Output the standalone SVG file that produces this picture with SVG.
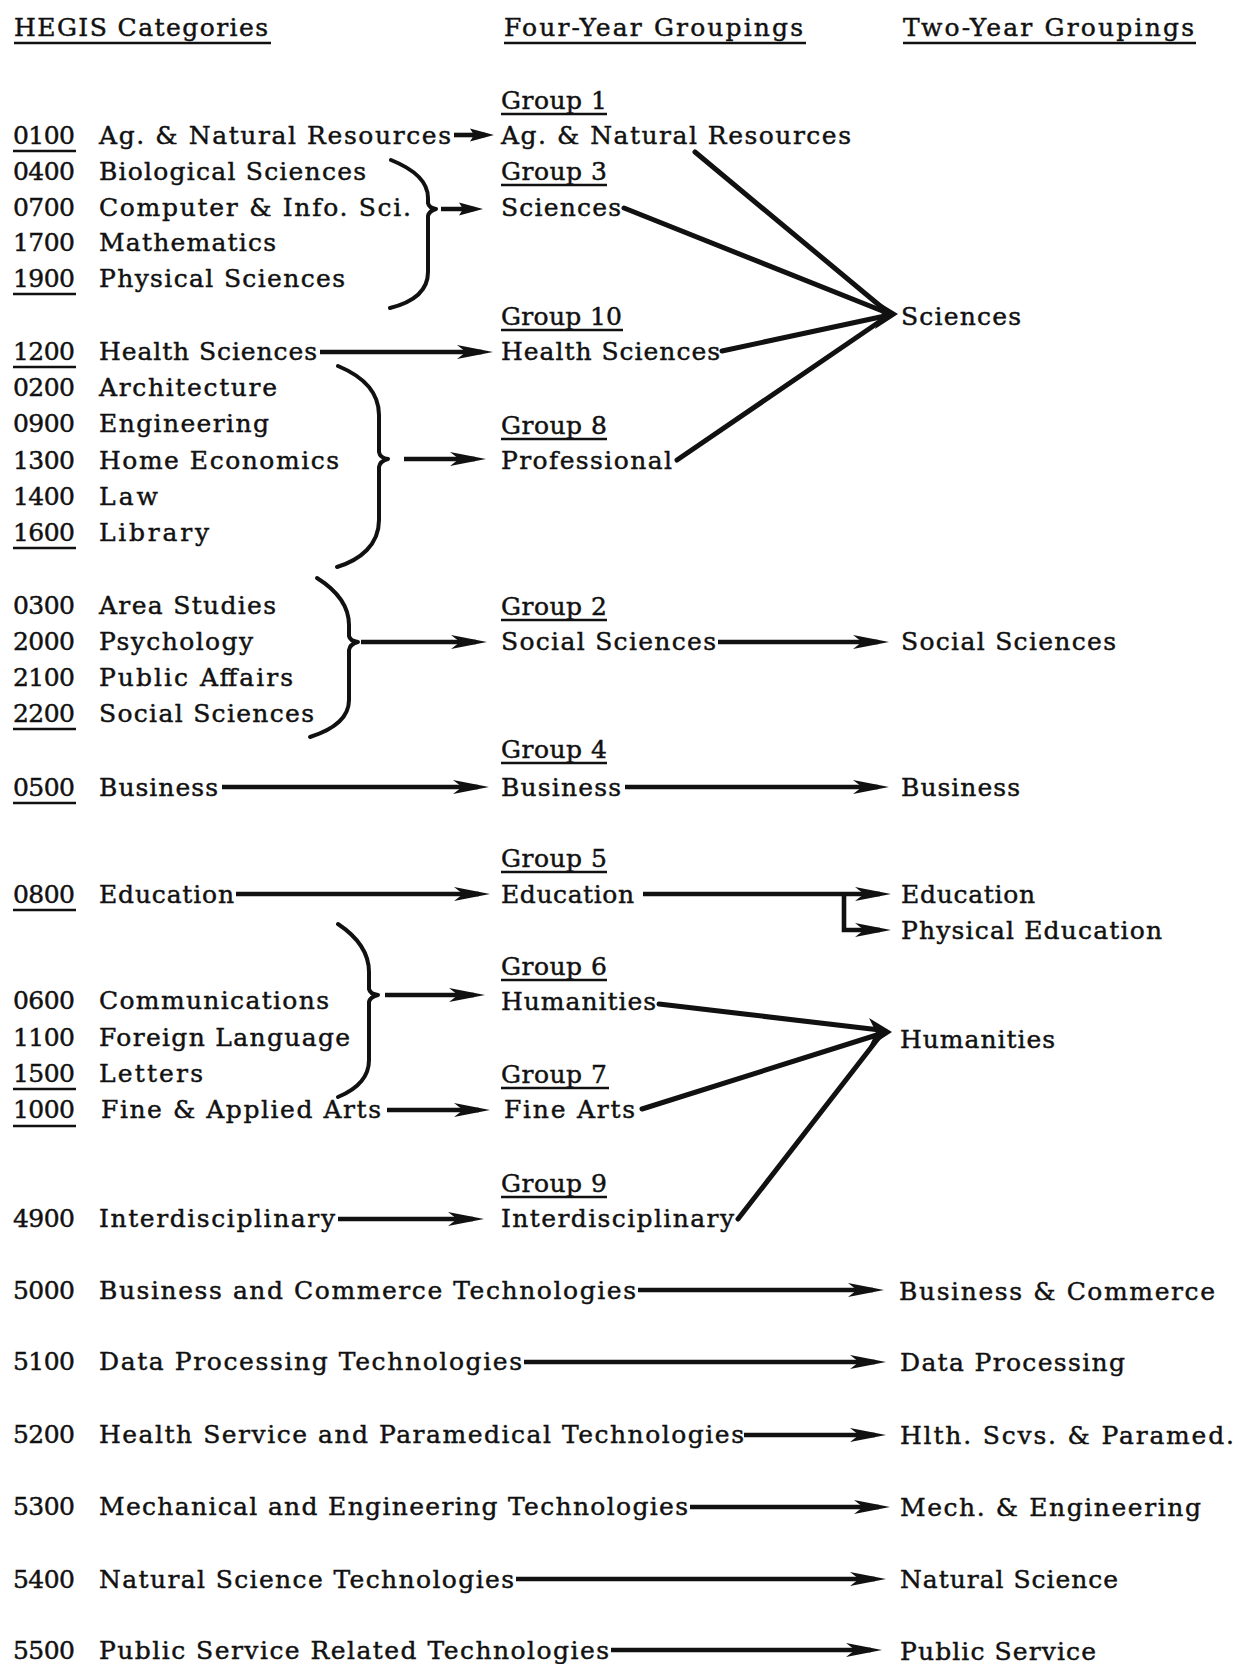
<svg xmlns="http://www.w3.org/2000/svg" width="1241" height="1664" viewBox="0 0 1241 1664">
<style>
text{font-family:"DejaVu Serif","Liberation Serif",serif;font-size:25px;fill:#111;stroke:#111;stroke-width:0.45}
.ul{stroke:#111;stroke-width:2.6}
.ar{stroke:#111;stroke-width:4.6;fill:none}
.cv{stroke:#111;stroke-width:5;fill:none;stroke-linecap:round}
.br{stroke:#111;stroke-width:4;fill:none;stroke-linecap:round;stroke-linejoin:round}
.hd{fill:#111}
</style>
<defs>
<marker id="ah" markerUnits="userSpaceOnUse" markerWidth="38" markerHeight="18" refX="25" refY="8" orient="auto" viewBox="0 0 38 18"><path d="M0,1 L36,8 L0,15 L9,8 Z" fill="#111"/></marker>
<marker id="ahs" markerUnits="userSpaceOnUse" markerWidth="26" markerHeight="16" refX="15" refY="7" orient="auto" viewBox="0 0 26 16"><path d="M0,0.5 L24,7 L0,13.5 L4,7 Z" fill="#111"/></marker>
</defs>
<rect width="1241" height="1664" fill="#fff"/>

<g id="headers">
<text x="14" y="36" textLength="254" lengthAdjust="spacing">HEGIS Categories</text>
<line class="ul" x1="14" y1="43" x2="271" y2="43"/>
<text x="504" y="36" textLength="299" lengthAdjust="spacing">Four-Year Groupings</text>
<line class="ul" x1="504" y1="43" x2="806" y2="43"/>
<text x="903" y="36" textLength="291" lengthAdjust="spacing">Two-Year Groupings</text>
<line class="ul" x1="903" y1="43" x2="1196" y2="43"/>
</g>

<g id="hegis">
<g id="h0100"><text x="13" y="144" textLength="62">0100</text><line class="ul" x1="13" y1="151" x2="76" y2="151"/><text x="99" y="144" textLength="352">Ag. &amp; Natural Resources</text></g>
<g id="h0400"><text x="13" y="180" textLength="62">0400</text><text x="99" y="180" textLength="267">Biological Sciences</text></g>
<g id="h0700"><text x="13" y="216" textLength="62">0700</text><text x="99" y="216" textLength="312">Computer &amp; Info. Sci.</text></g>
<g id="h1700"><text x="13" y="251" textLength="62">1700</text><text x="99" y="251" textLength="177">Mathematics</text></g>
<g id="h1900"><text x="13" y="287" textLength="62">1900</text><line class="ul" x1="13" y1="294" x2="76" y2="294"/><text x="99" y="287" textLength="246">Physical Sciences</text></g>
<g id="h1200"><text x="13" y="360" textLength="62">1200</text><line class="ul" x1="13" y1="367" x2="76" y2="367"/><text x="99" y="360" textLength="218">Health Sciences</text></g>
<g id="h0200"><text x="13" y="396" textLength="62">0200</text><text x="99" y="396" textLength="178">Architecture</text></g>
<g id="h0900"><text x="13" y="432" textLength="62">0900</text><text x="99" y="432" textLength="170">Engineering</text></g>
<g id="h1300"><text x="13" y="469" textLength="62">1300</text><text x="99" y="469" textLength="240">Home Economics</text></g>
<g id="h1400"><text x="13" y="505" textLength="62">1400</text><text x="99" y="505" textLength="59">Law</text></g>
<g id="h1600"><text x="13" y="541" textLength="62">1600</text><line class="ul" x1="13" y1="548" x2="76" y2="548"/><text x="99" y="541" textLength="110">Library</text></g>
<g id="h0300"><text x="13" y="614" textLength="62">0300</text><text x="99" y="614" textLength="177">Area Studies</text></g>
<g id="h2000"><text x="13" y="650" textLength="62">2000</text><text x="99" y="650" textLength="154">Psychology</text></g>
<g id="h2100"><text x="13" y="686" textLength="62">2100</text><text x="99" y="686" textLength="194">Public Affairs</text></g>
<g id="h2200"><text x="13" y="722" textLength="62">2200</text><line class="ul" x1="13" y1="729" x2="76" y2="729"/><text x="99" y="722" textLength="215">Social Sciences</text></g>
<g id="h0500"><text x="13" y="796" textLength="62">0500</text><line class="ul" x1="13" y1="803" x2="76" y2="803"/><text x="99" y="796" textLength="119">Business</text></g>
<g id="h0800"><text x="13" y="903" textLength="62">0800</text><line class="ul" x1="13" y1="910" x2="76" y2="910"/><text x="99" y="903" textLength="135">Education</text></g>
<g id="h0600"><text x="13" y="1009" textLength="62">0600</text><text x="99" y="1009" textLength="230">Communications</text></g>
<g id="h1100"><text x="13" y="1046" textLength="62">1100</text><text x="99" y="1046" textLength="251">Foreign Language</text></g>
<g id="h1500"><text x="13" y="1082" textLength="62">1500</text><line class="ul" x1="13" y1="1089" x2="76" y2="1089"/><text x="99" y="1082" textLength="104">Letters</text></g>
<g id="h1000"><text x="13" y="1118" textLength="62">1000</text><line class="ul" x1="13" y1="1126" x2="76" y2="1126"/><text x="101" y="1118" textLength="280">Fine &amp; Applied Arts</text></g>
<g id="h4900"><text x="13" y="1227" textLength="62">4900</text><text x="99" y="1227" textLength="236">Interdisciplinary</text></g>
<g id="h5000"><text x="13" y="1299" textLength="62">5000</text><text x="99" y="1299" textLength="537">Business and Commerce Technologies</text></g>
<g id="h5100"><text x="13" y="1370" textLength="62">5100</text><text x="99" y="1370" textLength="423">Data Processing Technologies</text></g>
<g id="h5200"><text x="13" y="1443" textLength="62">5200</text><text x="99" y="1443" textLength="645">Health Service and Paramedical Technologies</text></g>
<g id="h5300"><text x="13" y="1515" textLength="62">5300</text><text x="99" y="1515" textLength="589">Mechanical and Engineering Technologies</text></g>
<g id="h5400"><text x="13" y="1588" textLength="62">5400</text><text x="99" y="1588" textLength="415">Natural Science Technologies</text></g>
<g id="h5500"><text x="13" y="1659" textLength="62">5500</text><text x="99" y="1659" textLength="510">Public Service Related Technologies</text></g>
</g>

<g id="fouryear">
<g id="g1"><text x="501" y="109" textLength="106">Group 1</text><line class="ul" x1="501" y1="114" x2="607" y2="114"/><text x="501" y="144" textLength="350">Ag. &amp; Natural Resources</text></g>
<g id="g3"><text x="501" y="180" textLength="106">Group 3</text><line class="ul" x1="501" y1="185" x2="607" y2="185"/><text x="501" y="216" textLength="120">Sciences</text></g>
<g id="g10"><text x="501" y="325" textLength="121">Group 10</text><line class="ul" x1="501" y1="330" x2="623" y2="330"/><text x="501" y="360" textLength="219">Health Sciences</text></g>
<g id="g8"><text x="501" y="434" textLength="106">Group 8</text><line class="ul" x1="501" y1="439" x2="607" y2="439"/><text x="501" y="469" textLength="171">Professional</text></g>
<g id="g2"><text x="501" y="615" textLength="106">Group 2</text><line class="ul" x1="501" y1="620" x2="607" y2="620"/><text x="501" y="650" textLength="215">Social Sciences</text></g>
<g id="g4"><text x="501" y="758" textLength="106">Group 4</text><line class="ul" x1="501" y1="763" x2="607" y2="763"/><text x="501" y="796" textLength="120">Business</text></g>
<g id="g5"><text x="501" y="867" textLength="106">Group 5</text><line class="ul" x1="501" y1="872" x2="607" y2="872"/><text x="501" y="903" textLength="133">Education</text></g>
<g id="g6"><text x="501" y="975" textLength="106">Group 6</text><line class="ul" x1="501" y1="980" x2="607" y2="980"/><text x="501" y="1010" textLength="155">Humanities</text></g>
<g id="g7"><text x="501" y="1083" textLength="106">Group 7</text><line class="ul" x1="501" y1="1088" x2="609" y2="1088"/><text x="504" y="1118" textLength="131">Fine Arts</text></g>
<g id="g9"><text x="501" y="1192" textLength="106">Group 9</text><line class="ul" x1="501" y1="1197" x2="607" y2="1197"/><text x="501" y="1227" textLength="233">Interdisciplinary</text></g>
</g>

<g id="twoyear">
<g id="t-sciences"><text x="901" y="325" textLength="120">Sciences</text></g>
<g id="t-social"><text x="901" y="650" textLength="215">Social Sciences</text></g>
<g id="t-business"><text x="901" y="796" textLength="119">Business</text></g>
<g id="t-education"><text x="901" y="903" textLength="134">Education</text></g>
<g id="t-physed"><text x="901" y="939" textLength="261">Physical Education</text></g>
<g id="t-humanities"><text x="900" y="1048" textLength="155">Humanities</text></g>
<g id="t-buscom"><text x="899" y="1300" textLength="316">Business &amp; Commerce</text></g>
<g id="t-dataproc"><text x="900" y="1371" textLength="225">Data Processing</text></g>
<g id="t-hlth"><text x="900" y="1444" textLength="334">Hlth. Scvs. &amp; Paramed.</text></g>
<g id="t-mech"><text x="900" y="1516" textLength="301">Mech. &amp; Engineering</text></g>
<g id="t-natsci"><text x="900" y="1588" textLength="218">Natural Science</text></g>
<g id="t-pubserv"><text x="900" y="1660" textLength="196">Public Service</text></g>
</g>

<g id="connectors">
<path class="br" d="M391,160 C416,170 428,182 428,198 L428,203 Q429,208 436,209 Q429,211 428,216 L428,272 C428,290 414,302 390,308"/>
<path class="br" d="M338,366 C362,376 379,392 379,415 L379,452 Q380,458 388,459 Q380,461 379,467 L379,520 C379,545 360,560 337,567"/>
<path class="br" d="M317,578 C336,590 349,605 349,625 L349,636 Q350,641 358,642 Q350,644 349,650 L349,700 C349,718 332,730 310,737"/>
<path class="br" d="M338,924 C356,936 369,952 369,972 L369,989 Q370,994 378,995 Q370,997 369,1002 L369,1060 C369,1078 355,1090 338,1097"/>

<line class="ar" x1="454" y1="135" x2="485" y2="135" marker-end="url(#ahs)"/>
<line class="ar" x1="441" y1="209" x2="474" y2="209" marker-end="url(#ahs)"/>
<line class="ar" x1="320" y1="352" x2="482" y2="352" marker-end="url(#ah)"/>
<line class="ar" x1="404" y1="459" x2="475" y2="459" marker-end="url(#ah)"/>
<line class="ar" x1="361" y1="642" x2="476" y2="642" marker-end="url(#ah)"/>
<line class="ar" x1="718" y1="642" x2="878" y2="642" marker-end="url(#ah)"/>
<line class="ar" x1="222" y1="787" x2="478" y2="787" marker-end="url(#ah)"/>
<line class="ar" x1="625" y1="787" x2="878" y2="787" marker-end="url(#ah)"/>
<line class="ar" x1="236" y1="894" x2="479" y2="894" marker-end="url(#ah)"/>
<line class="ar" x1="643" y1="894" x2="880" y2="894" marker-end="url(#ah)"/>
<path class="ar" d="M844,894 L844,930 L880,930" marker-end="url(#ah)"/>
<line class="ar" x1="385" y1="995" x2="474" y2="995" marker-end="url(#ah)"/>
<line class="ar" x1="387" y1="1110" x2="479" y2="1110" marker-end="url(#ah)"/>
<line class="ar" x1="338" y1="1219" x2="473" y2="1219" marker-end="url(#ah)"/>
<line class="ar" x1="638" y1="1290" x2="873" y2="1290" marker-end="url(#ah)"/>
<line class="ar" x1="524" y1="1362" x2="875" y2="1362" marker-end="url(#ah)"/>
<line class="ar" x1="744" y1="1435" x2="875" y2="1435" marker-end="url(#ah)"/>
<line class="ar" x1="690" y1="1507" x2="879" y2="1507" marker-end="url(#ah)"/>
<line class="ar" x1="516" y1="1579" x2="875" y2="1579" marker-end="url(#ah)"/>
<line class="ar" x1="611" y1="1650" x2="871" y2="1650" marker-end="url(#ah)"/>

<line class="cv" x1="695" y1="152" x2="885" y2="310"/>
<line class="cv" x1="624" y1="208" x2="885" y2="312"/>
<line class="cv" x1="722" y1="351" x2="885" y2="316"/>
<line class="cv" x1="677" y1="460" x2="885" y2="318"/>
<path class="hd" d="M875,300 L898,314 L875,329 L882,314 Z"/>

<line class="cv" x1="659" y1="1004" x2="880" y2="1030"/>
<line class="cv" x1="642" y1="1109" x2="880" y2="1034"/>
<line class="cv" x1="738" y1="1219" x2="880" y2="1036"/>
<path class="hd" d="M869,1018 L892,1032 L869,1047 L876,1032 Z"/>
</g>
</svg>
